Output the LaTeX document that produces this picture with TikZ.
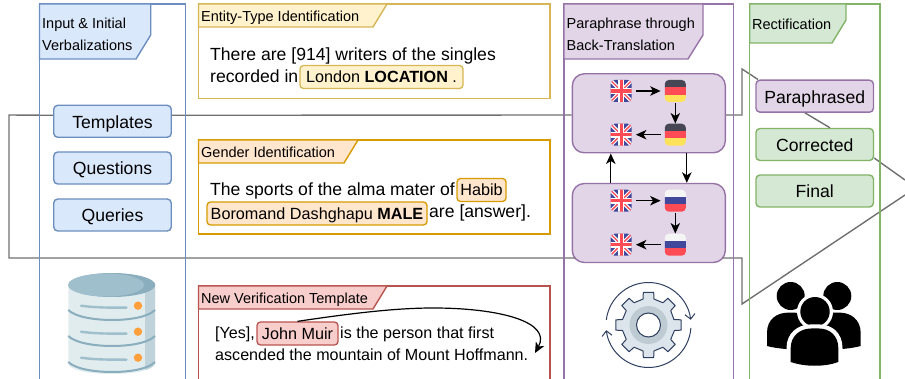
\documentclass[tikz,border=0pt]{standalone}
\usepackage{fontspec}
\setmainfont{Liberation Sans}
\usetikzlibrary{arrows.meta}

\definecolor{bluefill}{HTML}{DAE8FC}
\definecolor{blueline}{HTML}{6C8EBF}
\definecolor{purplefill}{HTML}{E1D5E7}
\definecolor{purpleline}{HTML}{9673A6}
\definecolor{greenfill}{HTML}{D5E8D4}
\definecolor{greenline}{HTML}{82B366}
\definecolor{yellowfill}{HTML}{FFF2CC}
\definecolor{yellowline}{HTML}{D6B656}
\definecolor{orangefill}{HTML}{FFE6CC}
\definecolor{orangeline}{HTML}{D79B00}
\definecolor{redfill}{HTML}{F8CECC}
\definecolor{redline}{HTML}{B85450}
\definecolor{linkgrey}{HTML}{707070}
\definecolor{dbbody}{HTML}{E1ECEF}
\definecolor{dbshade}{HTML}{C0D3DB}
\definecolor{dbtop}{HTML}{9FBFCC}
\definecolor{dbdark}{HTML}{8AAEBD}
\definecolor{dbdot}{HTML}{FFA03C}
\definecolor{gearbody}{HTML}{DDE5EC}
\definecolor{gearring}{HTML}{BFCBD2}
\definecolor{gearline}{HTML}{2F3F5F}
\definecolor{flagblue}{HTML}{41479B}
\definecolor{flagred}{HTML}{FF4B55}
\definecolor{flagdark}{HTML}{464655}
\definecolor{flaggold}{HTML}{FFE15A}
\definecolor{flagwhite}{HTML}{F5F5F5}

\tikzset{
  bluenode/.style={draw=blueline, fill=bluefill, line width=1.4pt, rounded corners=4pt,
    minimum width=117.5pt, minimum height=32pt, inner sep=0pt, text height=14pt, text depth=0pt,
    font=\fontsize{17.6}{20}\selectfont},
  purplenode/.style={bluenode, draw=purpleline, fill=purplefill},
  greennode/.style={bluenode, draw=greenline, fill=greenfill},
  tablabel/.style={anchor=west, align=left, inner sep=0pt, font=\fontsize{14.5}{22}\selectfont},
  bodytext/.style={anchor=base west, inner sep=0pt, font=\fontsize{17.6}{20}\selectfont},
  smalltext/.style={anchor=base west, inner sep=0pt, font=\fontsize{16.1}{18}\selectfont},
  chip/.style={rounded corners=3.5pt, line width=1.3pt, inner sep=0pt, minimum height=23pt,
    text height=12pt, text depth=0.6pt, font=\fontsize{16.2}{20}\selectfont},
  column/.style={line width=1.4pt},
  link/.style={draw=linkgrey, line width=1.4pt},
  flow/.style={line width=1.2pt, -{Stealth[length=10.5pt,width=9.5pt,inset=3pt]}},
  backbox/.style={draw=purpleline, fill=purplefill, line width=1.4pt, rounded corners=12pt,
    minimum width=153pt, minimum height=79pt, inner sep=0pt},
  flagbase/.style={minimum width=21pt, minimum height=22pt, inner sep=0pt, rounded corners=4pt},
  ukflag/.style={flagbase, path picture={
    \begin{scope}[shift={(path picture bounding box.center)}, sharp corners]
      \fill[flagblue] (-12,-12) rectangle (12,12);
      \draw[white, line width=3.6pt] (-12,-12) -- (12,12) (-12,12) -- (12,-12);
      \draw[flagred, line width=1.3pt] (-12,-12) -- (12,12) (-12,12) -- (12,-12);
      \draw[white, line width=6pt] (-12,0) -- (12,0) (0,-12) -- (0,12);
      \draw[flagred, line width=3.4pt] (-12,0) -- (12,0) (0,-12) -- (0,12);
    \end{scope}}},
  deflag/.style={flagbase, path picture={
    \begin{scope}[shift={(path picture bounding box.center)}, sharp corners]
      \fill[flagdark] (-12,-12) rectangle (12,-3.7);
      \fill[flagred] (-12,-3.7) rectangle (12,3.7);
      \fill[flaggold] (-12,3.7) rectangle (12,12);
    \end{scope}}},
  ruflag/.style={flagbase, path picture={
    \begin{scope}[shift={(path picture bounding box.center)}, sharp corners]
      \fill[flagwhite] (-12,-12) rectangle (12,-3.7);
      \fill[flagblue] (-12,-3.7) rectangle (12,3.7);
      \fill[flagred] (-12,3.7) rectangle (12,12);
    \end{scope}}}
}

\begin{document}
\begin{tikzpicture}[x=1pt, y=-1pt]
  \useasboundingbox (0,0) rectangle (905,379);

  % Stage nodes
  \node[bluenode] (templates) at (112.5,121.3) {Templates};
  \node[bluenode] (questions) at (112.5,168) {Questions};
  \node[bluenode] (queries) at (112.5,215) {Queries};
  \node[purplenode] (paraphrased) at (814.7,96.2) {Paraphrased};
  \node[greennode] (corrected) at (814.7,144.5) {Corrected};
  \node[greennode] (final) at (814.7,191) {Final};

  % Back-translation boxes
  \node[backbox] (upbox) at (648.8,113.3) {};
  \node[backbox] (lowbox) at (648.8,223) {};

  % Grey connectors, free ends are coordinates
  \coordinate (leftup) at (9,115);
  \coordinate (leftdown) at (9,258);
  \coordinate (rightup) at (742,115);
  \coordinate (righttop) at (742,69);
  \coordinate (rightdown) at (742,258);
  \coordinate (rightfoot) at (742,304);
  \coordinate (offa) at (905,180);
  \coordinate (offb) at (905,195);
  \draw[link] ([yshift=6pt]templates.west) -- (leftup) -- (leftdown) -- ([shift={(3.5pt,-35pt)}]lowbox.west);
  \draw[link] ([yshift=6pt]templates.east) -- ([yshift=-1.7pt]upbox.west);
  \draw[link] ([yshift=-1.7pt]upbox.east) -- (rightup) -- (righttop) -- ([xshift=-56.7pt]paraphrased.north);
  \draw[link] ([xshift=-9.7pt]paraphrased.south) -- ([xshift=15.3pt]corrected.north);
  \draw[link] ([yshift=-13.5pt]corrected.east) -- (offa);
  \draw[link] ([shift={(-3.5pt,-35pt)}]lowbox.east) -- (rightdown) -- (rightfoot) -- (offb);

  % Columns
  \draw[column, draw=blueline] (39.5,4) rectangle (185.5,385);
  \draw[column, draw=purpleline] (564,4) rectangle (733.7,385);
  \draw[column, draw=greenline] (749.7,4) rectangle (880,385);

  % Column tabs
  \draw[column, draw=blueline, fill=bluefill] (39.5,4) -- (150.7,4) -- (150.7,35) -- (136,59) -- (39.5,59) -- cycle;
  \draw[column, draw=purpleline, fill=purplefill] (564,4) -- (703,4) -- (703,35) -- (688,59) -- (564,59) -- cycle;
  \draw[column, draw=greenline, fill=greenfill] (749.7,4) -- (846,4) -- (846,20) -- (832,43) -- (749.7,43) -- cycle;
  \node[tablabel] (inputlabel) at (42,34.3) {Input \& Initial\\Verbalizations};
  \node[tablabel] (paralabel) at (566.5,34.3) {Paraphrase through\\Back-Translation};
  \node[tablabel] (rectlabel) at (752,24.5) {Rectification};

  % Entity-type example
  \draw[column, draw=yellowline] (198.5,4) rectangle (550,98.5);
  \draw[column, draw=yellowline, fill=yellowfill] (198.5,4) -- (387,4) -- (373,27) -- (198.5,27) -- cycle;
  \node[tablabel] (entitylabel) at (201,18) {Entity-Type Identification};
  \node[bodytext] (entityone) at (210,61) {There are [914] writers of the singles};
  \node[bodytext] (entitytwo) at (210,83) {recorded in};
  \node[chip, draw=yellowline, fill=yellowfill, minimum width=163pt] (london) at (381.5,77) {London \textbf{LOCATION} .};

  % Gender example
  \draw[column, draw=orangeline] (198.5,140) rectangle (550,234);
  \draw[column, draw=orangeline, fill=orangefill] (198.5,140) -- (358,140) -- (344,163) -- (198.5,163) -- cycle;
  \node[tablabel] (genderlabel) at (201,152.5) {Gender Identification};
  \node[bodytext] (genderone) at (210,196) {The sports of the alma mater of};
  \node[chip, draw=orangeline, fill=orangefill, minimum width=49pt] (habib) at (481.5,190) {Habib};
  \node[chip, draw=orangeline, fill=orangefill, minimum width=220pt] (boromand) at (317,213.5) {Boromand Dashghapu \textbf{MALE}};
  \node[bodytext] (gendertwo) at (429,217.5) {are [answer].};

  % Verification example
  \draw[column, draw=redline] (198.5,286) rectangle (550,385);
  \draw[column, draw=redline, fill=redfill] (198.5,286) -- (387,286) -- (373,309) -- (198.5,309) -- cycle;
  \node[tablabel] (newlabel) at (201,300) {New Verification Template};
  \node[smalltext] (yesword) at (215,338.5) {[Yes],};
  \node[chip, draw=redline, fill=redfill, minimum width=81pt] (johnmuir) at (297.5,333.5) {John Muir};
  \node[smalltext] (verifyone) at (340,338.5) {is the person that first};
  \node[smalltext] (verifytwo) at (215,360.5) {ascended the mountain of Mount Hoffmann.};
  \coordinate (curvemid) at (433,308);
  \coordinate (curveend) at (535,353);
  \draw[flow] (johnmuir.north) .. controls (360,312) and (400,308) .. (curvemid) .. controls (500,308) and (552,322) .. (curveend);

  % Flags
  \node[ukflag] (ukone) at (621.2,91) {};
  \node[deflag] (deone) at (675.3,91) {};
  \node[deflag] (detwo) at (675.3,134.7) {};
  \node[ukflag] (uktwo) at (621.2,134.7) {};
  \node[ukflag] (ukthree) at (621.2,200.7) {};
  \node[ruflag] (ruone) at (675.3,200.7) {};
  \node[ruflag] (rutwo) at (675.3,244.7) {};
  \node[ukflag] (ukfour) at (621.2,244.7) {};

  \draw[flow, shorten <=4pt, shorten >=4pt] (ukone) -- (deone);
  \draw[flow, shorten <=1pt, shorten >=0pt] (deone) -- (detwo);
  \draw[flow, shorten <=4pt, shorten >=4pt] (detwo) -- (uktwo);
  \draw[flow, shorten <=4pt, shorten >=4pt] (ukthree) -- (ruone);
  \draw[flow, shorten <=1pt, shorten >=0pt] (ruone) -- (rutwo);
  \draw[flow, shorten <=4pt, shorten >=4pt] (rutwo) -- (ukfour);
  \draw[flow] ([xshift=-38pt]lowbox.north) -- ([xshift=-38pt]upbox.south);
  \draw[flow] ([xshift=38pt]upbox.south) -- ([xshift=38pt]lowbox.north);

  % Database
  \fill[dbbody] (68.3,285) -- (155,285) -- (155,363) .. controls (155,370) and (135,374) .. (112,374) .. controls (88,374) and (68.3,370) .. (68.3,363) -- cycle;
  \fill[dbshade] (145,285) -- (155,285) -- (155,363) .. controls (155,366) and (150,369) .. (145,370) -- cycle;
  \foreach \y in {310,336,362} {
    \draw[dbdark, line width=2pt] (68.3,\y) .. controls (75,\y+7) and (95,\y+10) .. (112,\y+10) .. controls (130,\y+10) and (148,\y+7) .. (155,\y);
  }
  \fill[dbdark] (112,285) ellipse (43.3 and 12);
  \fill[dbtop] (106,285) ellipse (38 and 11.5);
  \foreach \y in {305.7,331.7,357.7} {
    \draw[dbtop, line width=2.4pt, line cap=round] (81,\y) .. controls (95,\y+2) and (110,\y+2) .. (126.5,\y+2);
    \fill[dbdot] (138,\y) circle (4.2);
  }

  % Gear with turning arrows
  \begin{scope}[shift={(648.5,325)}]
    \draw[fill=gearbody, draw=gearline, line width=1pt, line join=round]
      (-12:26) \foreach \a in {0,45,...,315} { -- (\a-12:26.5) -- (\a-9:33) -- (\a+9:33) -- (\a+12:26.5) } -- cycle;
    \fill[gearring] (0,0) circle (19);
    \draw[fill=white, draw=gearline, line width=1pt] (0,0) circle (12);
    \draw[gearline, line width=1pt, -{Straight Barb[length=5pt,width=10pt]}] (187:42.5) arc (187:353:42.5);
    \draw[gearline, line width=1pt, -{Straight Barb[length=5pt,width=10pt]}] (4:42.5) arc (4:173:42.5);
  \end{scope}

  % People
  \fill[black] (790.7,296) circle (14);
  \fill[black] (837.3,296) circle (14);
  \fill[black] (767,346) -- (767,333) .. controls (767,319) and (777,313) .. (787,312.7) -- (795,312.7) .. controls (805,313) and (812,320) .. (812,333) -- (812,350) .. controls (795,350) and (778,349) .. (767,346) -- cycle;
  \fill[black] (860.7,346) -- (860.7,333) .. controls (860.7,319) and (850,313) .. (841,312.7) -- (833,312.7) .. controls (822,313) and (816,320) .. (816,333) -- (816,350) .. controls (833,350) and (850,349) .. (860.7,346) -- cycle;
  \fill[white] (815,311.7) circle (18);
  \fill[black] (815,311.7) circle (14.7);
  \fill[white] (786.5,372) -- (786.5,348) .. controls (786.5,333) and (798,324.5) .. (810,324.5) -- (820,324.5) .. controls (832,324.5) and (842.5,333) .. (842.5,348) -- (842.5,372) -- cycle;
  \fill[black] (790.7,362) -- (790.7,348) .. controls (790.7,336) and (800,328.5) .. (811,328.5) -- (819,328.5) .. controls (830,328.5) and (838.3,336) .. (838.3,348) -- (838.3,362) .. controls (825,367) and (805,367) .. (790.7,362) -- cycle;
\end{tikzpicture}
\end{document}
